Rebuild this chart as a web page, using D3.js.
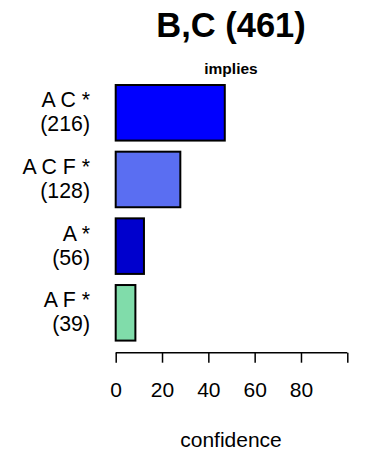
<!DOCTYPE html>
<html>
<head>
<meta charset="utf-8">
<script src="https://cdn.jsdelivr.net/npm/d3@7"></script>
<style>
  html, body { margin: 0; padding: 0; background: #fff; }
  svg { display: block; font-family: "Liberation Sans", Arial, sans-serif; }
</style>
</head>
<body>
<svg id="chart" width="366" height="455"></svg>
<script>
const categories = ["A C *", "A C F *", "A *", "A F *"];
const counts = [216, 128, 56, 39];
const confidence = [47.1, 27.9, 12.2, 8.5];
const barColors = ["#0000FF", "#5A6EF2", "#0000CD", "#80DCAA"];
const tickValues = [0, 20, 40, 60, 80, 100];
const tickLabels = ["0", "20", "40", "60", "80", ""];
const title = "B,C (461)";
const subtitle = "implies";
const xLabel = "confidence";

const svg = d3.select("#chart");

const x = d3.scaleLinear().domain([0, 100]).range([115.7, 347.3]);
const y = d3.scaleBand()
  .domain(categories)
  .range([73.9, 351.7])
  .paddingInner(1/6)
  .paddingOuter(1/6);

// bars
svg.append("g").selectAll("rect")
  .data(categories)
  .join("rect")
  .attr("x", x(0))
  .attr("y", d => y(d))
  .attr("width", (d, i) => x(confidence[i]) - x(0))
  .attr("height", y.bandwidth())
  .attr("fill", (d, i) => barColors[i])
  .attr("stroke", "#000")
  .attr("stroke-width", 2);

// category labels
const lab = svg.append("g").attr("font-size", 21.3).attr("text-anchor", "end").attr("fill", "#000");
categories.forEach((c, i) => {
  const cy = y(c) + y.bandwidth() / 2;
  lab.append("text").attr("x", 90).attr("y", cy - 5.5).text(c);
  lab.append("text").attr("x", 90).attr("y", cy + 18.5).text("(" + counts[i] + ")");
});

// x axis
const axis = d3.axisBottom(x)
  .tickValues(tickValues)
  .tickFormat((d, i) => tickLabels[i])
  .tickSize(10)
  .tickPadding(19.5);
const gx = svg.append("g")
  .attr("transform", "translate(0,352.7)")
  .call(axis);
gx.select(".domain").attr("stroke", "#000").attr("stroke-width", 1.5)
  .attr("d", `M${x(0)},0H${x(100)}`);
gx.selectAll(".tick line").attr("stroke", "#000").attr("stroke-width", 1.5);
gx.selectAll(".tick text")
  .attr("font-size", 21)
  .attr("font-family", "Liberation Sans, Arial, sans-serif")
  .attr("fill", "#000");

// x label
svg.append("text")
  .attr("x", 231).attr("y", 447)
  .attr("text-anchor", "middle")
  .attr("font-size", 21)
  .text(xLabel);

// title
svg.append("text")
  .attr("x", 231).attr("y", 37)
  .attr("text-anchor", "middle")
  .attr("font-size", 34.5)
  .attr("font-weight", "bold")
  .text(title);

svg.append("text")
  .attr("x", 231).attr("y", 74)
  .attr("text-anchor", "middle")
  .attr("font-size", 15.5)
  .attr("font-weight", "bold")
  .text(subtitle);
</script>
</body>
</html>
